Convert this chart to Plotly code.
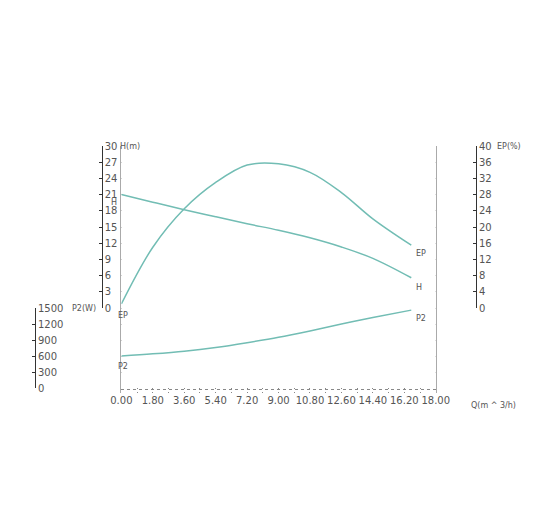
import plotly.graph_objects as go

Q = [0, 1.8, 3.6, 5.4, 7.2, 9.0, 10.8, 12.6, 14.4, 16.6]
H = [21, 19.6, 18.2, 16.9, 15.6, 14.4, 13.0, 11.3, 9.2, 5.6]
EP = [1, 15, 24.5, 31, 35.3, 35.6, 33.5, 28.5, 22, 15.5]
P2 = [600, 640, 690, 760, 850, 950, 1070, 1200, 1320, 1460]
xticks = [0, 1.8, 3.6, 5.4, 7.2, 9.0, 10.8, 12.6, 14.4, 16.2, 18.0]

col = "#72bdb4"
tc = "#555555"
W, L = 510, 20
def px(x):
    return (x - L) / W

line = dict(color=col, width=1.5, shape="spline")
fig = go.Figure()
fig.add_trace(go.Scatter(x=[0, 18], y=[0, 0], xaxis="x", yaxis="y4", mode="lines", line=dict(width=0), hoverinfo="skip", showlegend=False))
fig.add_trace(go.Scatter(x=Q, y=H, xaxis="x2", yaxis="y", mode="lines", line=line, showlegend=False))
fig.add_trace(go.Scatter(x=Q, y=EP, xaxis="x2", yaxis="y3", mode="lines", line=line, showlegend=False))
fig.add_trace(go.Scatter(x=Q, y=P2, xaxis="x3", yaxis="y2", mode="lines", line=line, showlegend=False))

hb = (385 - 300) / 247
pb = (385 - 380) / 247
xd = [px(112), px(432)]
font = dict(family="DejaVu Sans", size=10, color=tc)
sfont = dict(family="DejaVu Sans", size=8, color=tc)
common = dict(showline=True, linecolor="#333", linewidth=1, ticks="inside", ticklen=3,
              tickcolor="#333", side="right", showgrid=False, zeroline=False,
              tickfont=font, anchor="free")
hidx = dict(domain=xd, range=[0, 18], matches="x", visible=False)
fig.update_layout(
    width=550, height=520, paper_bgcolor="white", plot_bgcolor="white",
    margin=dict(l=L, r=20, t=138, b=135),
    xaxis=dict(domain=xd, range=[0, 18], tickvals=xticks,
               ticktext=[f"{v:.2f}" for v in xticks], tickfont=font,
               showgrid=True, gridcolor="#888", griddash="dot", gridwidth=1,
               minor=dict(dtick=0.9, tick0=0, showgrid=True, gridcolor="#888", griddash="dot"),
               zeroline=False, showline=False, anchor="y4", ticks=""),
    xaxis2=dict(anchor="y", **hidx),
    xaxis3=dict(anchor="y2", **hidx),
    yaxis=dict(domain=[hb, 1], range=[0, 30], dtick=3, position=px(92), **common),
    yaxis2=dict(domain=[pb, hb], range=[0, 1500], dtick=300, position=px(24), **common),
    yaxis3=dict(range=[0, 40], dtick=4, position=px(473), overlaying="y", **common),
    yaxis4=dict(domain=[0, 1], range=[-85 * 30 / 162, 30], dtick=3, tick0=0, showticklabels=False,
                showgrid=True, gridcolor="#888", griddash="dot", zeroline=False,
                showline=True, mirror=True, linecolor="#aaa", ticks=""),
)
ann = [
    dict(x=Q[0], y=H[0], xref="x2", yref="y", text="H", xshift=-7, yshift=-8),
    dict(x=Q[-1], y=H[-1], xref="x2", yref="y", text="H", xshift=8, yshift=-10),
    dict(x=Q[0], y=EP[0], xref="x2", yref="y3", text="EP", xshift=2, yshift=-12),
    dict(x=Q[-1], y=EP[-1], xref="x2", yref="y3", text="EP", xshift=10, yshift=-8),
    dict(x=Q[0], y=P2[0], xref="x3", yref="y2", text="P2", xshift=2, yshift=-10),
    dict(x=Q[-1], y=P2[-1], xref="x3", yref="y2", text="P2", xshift=10, yshift=-8),
    dict(x=px(109), y=1, xref="paper", yref="paper", text="H(m)", xanchor="left", yanchor="middle"),
    dict(x=px(60), y=hb, xref="paper", yref="paper", text="P2(W)", xanchor="left", yanchor="middle"),
    dict(x=px(492), y=1, xref="paper", yref="paper", text="EP(%)", xanchor="left", yanchor="middle"),
    dict(x=px(466), y=0, xref="paper", yref="paper", text="Q(m ^ 3/h)", xanchor="left", yshift=-12, yanchor="middle"),
]
for a in ann:
    a.update(showarrow=False, font=sfont)
fig.update_layout(annotations=ann)
fig.write_html("out.html")
